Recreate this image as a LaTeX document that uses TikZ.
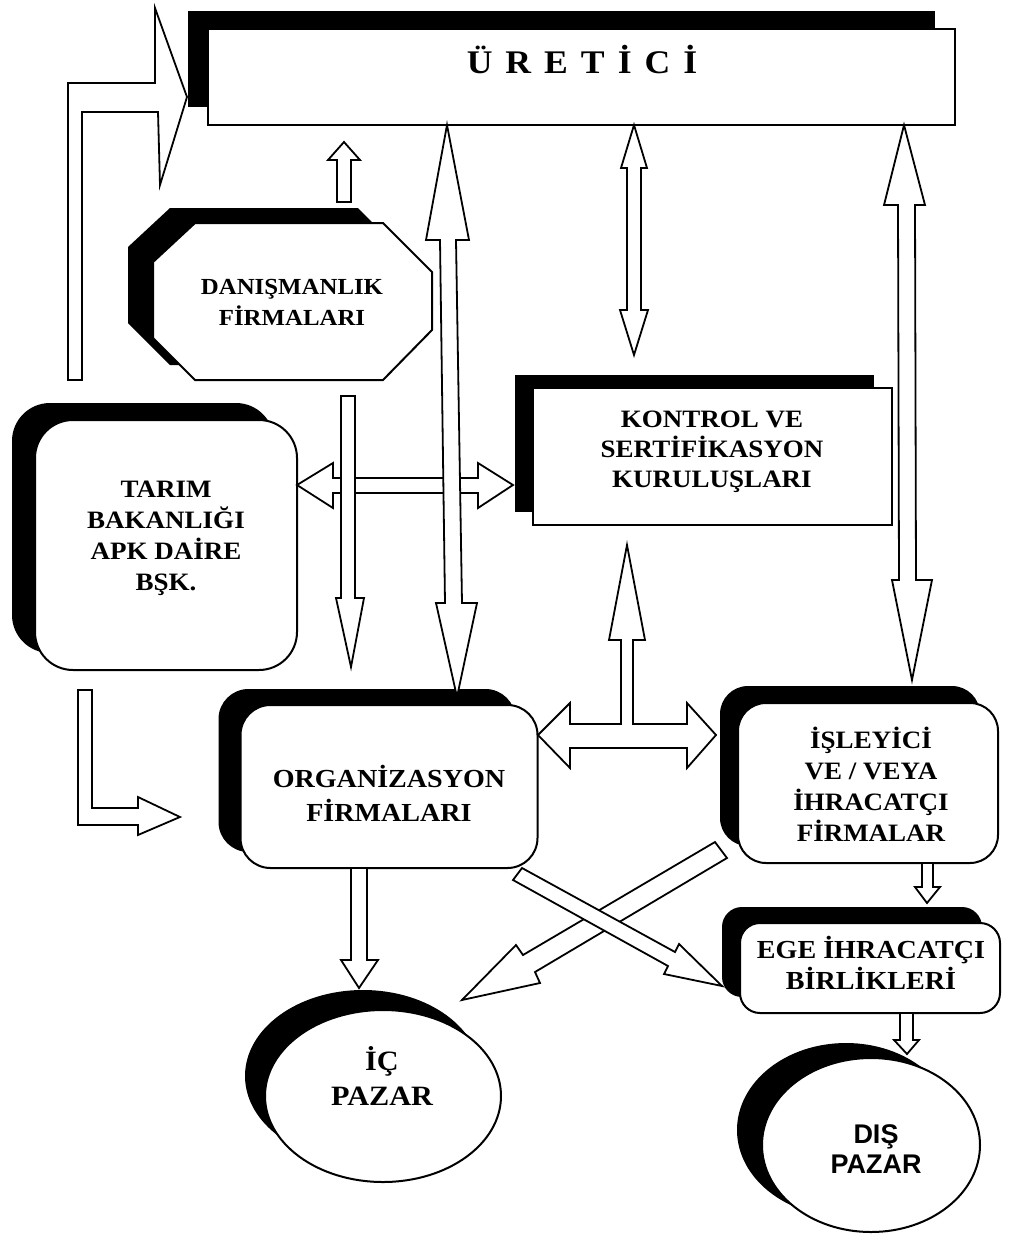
\documentclass[tikz,border=0pt]{standalone}
\usepackage{fontspec}
\setmainfont{Liberation Serif}[FakeStretch=1.08]
\newfontfamily\sansfam{Liberation Sans}
\usetikzlibrary{shadows,shapes.geometric}
\tikzset{
  ol/.style={draw=black, line width=2pt, fill=white, line join=miter},
  blk/.style={draw=black, line width=1.8pt, fill=white, line join=miter},
  sh/.style 2 args={general shadow={fill=black, shadow xshift=#1pt, shadow yshift=#2pt}},
  lbl/.style={align=center, inner sep=0pt, font=\bfseries\fontsize{#1}{31}\selectfont},
  lbl/.default=25,
}
\begin{document}
\begin{tikzpicture}[x=1pt,y=-1pt]
\useasboundingbox (0,0) rectangle (1011,1235);
\fill[white] (0,0) rectangle (1011,1235);

% ---------- boxes ----------
\node[ol, sh={-20}{18}, minimum width=747pt, minimum height=96pt, inner sep=0pt] (uretbox) at (581.5,77) {};
\node[inner sep=0pt, font=\bfseries\fontsize{33}{36}\selectfont] (uretici) at (582,60)
  {Ü\hspace{13pt}R\hspace{13pt}E\hspace{13pt}T\hspace{13pt}İ\hspace{13pt}C\hspace{13pt}İ};

\path[ol, sh={-25}{15}] (195,223) -- (383,223) -- (432,272) -- (432,330) -- (383,380)
  -- (195,380) -- (153,338) -- (153,262) -- cycle;
\node[lbl=23] (dan) at (292,302) {DANIŞMANLIK\\FİRMALARI};

\node[ol, sh={-23}{17}, rounded corners=38pt, minimum width=262pt, minimum height=250pt, inner sep=0pt] (tarimbox) at (166,545) {};
\node[lbl=25] (tarim) at (166,538) {TARIM\\BAKANLIĞI\\APK DAİRE\\BŞK.};

\node[ol, sh={-18}{13}, minimum width=359pt, minimum height=137pt, inner sep=0pt] (kontbox) at (712.5,456.5) {};
\node[lbl, font=\bfseries\fontsize{25}{30}\selectfont] (kontrol) at (712,452) {KONTROL VE\\SERTİFİKASYON\\KURULUŞLARI};

\node[ol, sh={-22}{16}, rounded corners=30pt, minimum width=297pt, minimum height=163pt, inner sep=0pt] (orgbox) at (389,786.5) {};
\node[lbl, font=\bfseries\fontsize{26}{34}\selectfont] (org) at (389,793) {ORGANİZASYON\\FİRMALARI};

\node[ol, sh={-18}{17}, rounded corners=28pt, minimum width=260pt, minimum height=160pt, inner sep=0pt] (islbox) at (868,783) {};
\node[lbl=25] (isl) at (871,784) {İŞLEYİCİ\\VE / VEYA\\İHRACATÇI\\FİRMALAR};

\node[ol, sh={-18}{16}, rounded corners=20pt, minimum width=260pt, minimum height=90pt, inner sep=0pt] (egebox) at (870,968) {};
\node[lbl, font=\bfseries\fontsize{26}{31}\selectfont] (ege) at (871,963) {EGE İHRACATÇI\\BİRLİKLERİ};

\node[ol, sh={-20}{20}, ellipse, minimum width=236pt, minimum height=172pt, inner sep=0pt] (icbox) at (383,1096) {};
\node[lbl, font=\bfseries\fontsize{28}{35}\selectfont] (ic) at (382,1076) {İÇ\\PAZAR};

\node[ol, sh={-25}{15}, ellipse, minimum width=218pt, minimum height=174pt, inner sep=0pt] (disbox) at (871,1145) {};
\node[align=center, inner sep=0pt, font=\sansfam\bfseries\fontsize{27}{30}\selectfont] (dis) at (876,1149) {DIŞ\\PAZAR};

% ---------- block arrows ----------
% frame arrow into URETICI
\draw[blk] (68,380) -- (68,83) -- (155,83) -- (155,8) -- (187,97) -- (160,185) -- (158,112)
  -- (82,112) -- (82,380) -- cycle;
% small up arrow above DANISMANLIK
\draw[blk] (337,202) -- (337,160) -- (328,160) -- (344,142) -- (360,160) -- (351,160) -- (351,202) -- cycle;
% TARIM <-> KONTROL
\draw[blk] (297,485) -- (333,463) -- (333,478) -- (478,478) -- (478,463) -- (513,485)
  -- (478,508) -- (478,493) -- (333,493) -- (333,508) -- cycle;
% URETICI <-> ORGANIZASYON
\draw[blk] (447,125) -- (469,240) -- (456,240) -- (462,603) -- (477,603) -- (457,697)
  -- (436,603) -- (445,603) -- (440,240) -- (426,240) -- cycle;
% DANISMANLIK -> ORGANIZASYON
\draw[blk] (341,396) -- (355,396) -- (355,598) -- (364,598) -- (351,667) -- (336,598) -- (341,598) -- cycle;
% URETICI <-> KONTROL
\draw[blk] (634,125) -- (647,168) -- (641,168) -- (641,310) -- (648,310) -- (634,355)
  -- (620,310) -- (627,310) -- (627,168) -- (621,168) -- cycle;
% URETICI <-> ISLEYICI
\draw[blk] (904,125) -- (925,205) -- (915,205) -- (916,580) -- (932,580) -- (912,680)
  -- (892,580) -- (899,580) -- (898,205) -- (884,205) -- cycle;
% ORGANIZASYON <-> ISLEYICI with KONTROL
\draw[blk] (538,735) -- (570,703) -- (570,724) -- (621,724) -- (621,640) -- (609,640) -- (627,545)
  -- (645,640) -- (633,640) -- (633,724) -- (687,724) -- (687,703) -- (716,735)
  -- (687,768) -- (687,748) -- (570,748) -- (570,768) -- cycle;
% ORGANIZASYON -> IC PAZAR
\draw[blk] (351,868) -- (367,868) -- (367,960) -- (378,960) -- (359,988) -- (341,960) -- (351,960) -- cycle;
% ISLEYICI -> IC PAZAR
\draw[blk] (715,842) -- (727,858) -- (535,972) -- (540,983) -- (462,1000) -- (516,945) -- (523,955) -- cycle;
% ORGANIZASYON -> EGE
\draw[blk] (513,880) -- (522,868) -- (675,952) -- (679,944) -- (722,986) -- (664,974) -- (668,966) -- cycle;
% ISLEYICI -> EGE
\draw[blk] (922,863) -- (933,863) -- (933,887) -- (940,887) -- (927,903) -- (915,887) -- (922,887) -- cycle;
% EGE -> DIS PAZAR
\draw[blk] (900,1013) -- (913,1013) -- (913,1040) -- (919,1040) -- (907,1054) -- (894,1040) -- (900,1040) -- cycle;
% TARIM -> ORGANIZASYON (L arrow)
\draw[blk] (78,690) -- (92,690) -- (92,808) -- (138,808) -- (138,797) -- (180,817) -- (138,835)
  -- (138,825) -- (78,825) -- cycle;
\end{tikzpicture}
\end{document}
